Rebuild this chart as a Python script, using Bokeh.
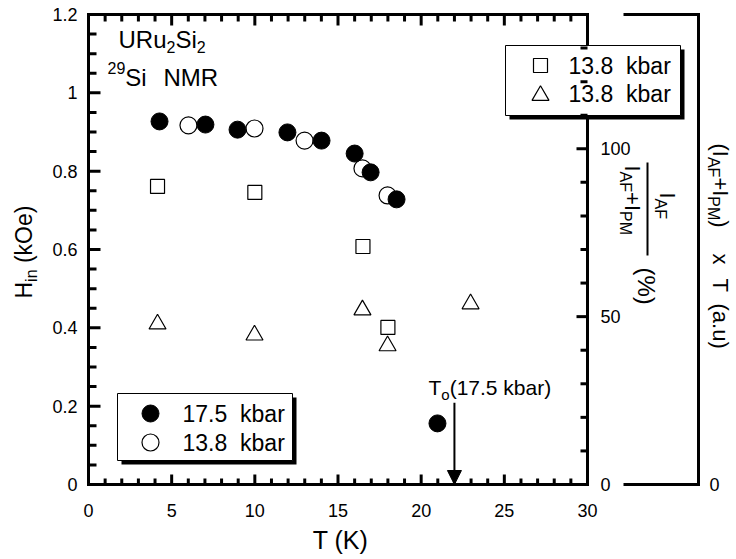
import math
from bokeh.plotting import figure
from bokeh.models import Range1d, Arrow, NormalHead, ColumnDataSource
from bokeh.core.properties import value
from bokeh.embed import file_html
from bokeh.resources import INLINE

# ---------------- data ----------------
T_175 = [4.27, 7.03, 8.96, 11.96, 14.01, 16.0, 16.96, 18.52, 20.98]      # 17.5 kbar, filled circles
H_175 = [0.927, 0.919, 0.906, 0.899, 0.878, 0.845, 0.797, 0.728, 0.156]
T_138 = [6.01, 9.98, 12.99, 16.47, 17.98]                                # 13.8 kbar, open circles
H_138 = [0.917, 0.909, 0.878, 0.807, 0.738]
T_sq = [4.15, 10.0, 16.5, 18.0]                                          # I_AF/(I_AF+I_PM) (%)
P_sq = [88.8, 87.0, 70.9, 46.8]
T_tri = [4.15, 9.98, 16.47, 17.98, 22.97]                                # (I_AF+I_PM) x T (a.u.)
A_tri = [47.8, 44.5, 52.0, 41.3, 53.8]
T0_T = 22.0            # T_o arrow position (K)
T0_top = 0.209         # arrow start (kOe)

x_major = [0, 5, 10, 15, 20, 25, 30]
x_labels = ["0", "5", "10", "15", "20", "25", "30"]
x_minor = [v for v in range(0, 31) if v % 5]
y_major = [0.0, 0.2, 0.4, 0.6, 0.8, 1.0, 1.2]
y_labels = ["0", "0.2", "0.4", "0.6", "0.8", "1", "1.2"]
y_minor = [k * 0.05 for k in range(25) if k % 4]
pct_major = [0, 50, 100]
pct_labels = ["0", "50", "100"]
pct_minor = [10, 20, 30, 40, 60, 70, 80, 90, 110, 120, 130]
X_MAX, Y_MAX, PCT_MAX = 30.0, 1.2, 140.0
NB = "\u00a0"
legend_top = ["13.8" + NB + NB + "kbar", "13.8" + NB + NB + "kbar"]
legend_bottom = ["17.5" + NB + NB + "kbar", "13.8" + NB + NB + "kbar"]

# ---------------- layout constants (pixels) ----------------
W, Hh = 736, 559
FL, FR, FT, FB = 88, 587, 14, 484
SX = (FR - FL) / X_MAX
SY = (FB - FT) / Y_MAX
PF = PCT_MAX / Y_MAX
FONT = "Liberation Sans"
MID = 0.35   # distance (em) from the alphabetic baseline to the text middle


def px(x):
    return (x - FL) / SX


def py(y):
    return (FB - y) / SY


p = figure(width=W, height=Hh,
           x_range=Range1d(px(0), px(W)), y_range=Range1d(py(Hh), py(0)),
           output_backend="svg", toolbar_location=None,
           x_axis_location=None, y_axis_location=None, min_border=0)
p.outline_line_color = None
p.xgrid.visible = False
p.ygrid.visible = False
p.background_fill_color = "white"
p.border_fill_color = "white"
p.extra_y_ranges = {"pct": Range1d(py(Hh) * PF, py(0) * PF),
                    "au": Range1d(py(Hh) * PF, py(0) * PF)}

# ---------------- data marks ----------------
p.scatter(T_sq, P_sq, y_range_name="pct", marker="square", size=14,
          fill_color="white", line_color="black", line_width=1.2)
p.scatter(T_tri, A_tri, y_range_name="au", marker="triangle", size=17,
          fill_color="white", line_color="black", line_width=1.2)
p.scatter(T_138, H_138, marker="circle", size=17, fill_color="white",
          line_color="black", line_width=1.2)
p.scatter(T_175, H_175, marker="circle", size=17, fill_color="black",
          line_color="black", line_width=1)

# ---------------- ticks: headless Arrow annotations (lines) ----------------
n = len
tx0, ty0, tx1, ty1 = [], [], [], []


def vticks(xs, y0, length_px):
    y1 = y0 + length_px / SY
    for x in xs:
        tx0.append(x); ty0.append(y0); tx1.append(x); ty1.append(y1)


def hticks(ys, x0, length_px):
    x1 = x0 + length_px / SX
    for y in ys:
        tx0.append(x0); ty0.append(y); tx1.append(x1); ty1.append(y)


vticks(x_major, 0, 10)
vticks(x_minor, 0, 6)
vticks(x_major, Y_MAX, -11)
vticks(x_minor, Y_MAX, -7)
hticks(y_major, 0, 12)
hticks(y_minor, 0, 8)
hticks([v / PF for v in pct_major], X_MAX, -11)
hticks([v / PF for v in pct_minor], X_MAX, -7)

tick_src = ColumnDataSource(data=dict(x0=tx0, y0=ty0, x1=tx1, y1=ty1))
p.add_layout(Arrow(end=None, x_start="x0", y_start="y0", x_end="x1", y_end="y1",
                   source=tick_src, line_color="black", line_width=3))
# fraction bar of the inner right-axis title
p.add_layout(Arrow(end=None, x_start=px(647), y_start=py(162), x_end=px(647), y_end=py(255),
                   line_color="black", line_width=2))

# frame
p.line([0, X_MAX, X_MAX, 0, 0, X_MAX], [0, 0, Y_MAX, Y_MAX, 0, 0],
       line_color="black", line_width=3, line_join="miter")
# outer (a.u.) axis bracket
OUT_L, OUT_X = px(623), px(698)
p.line([OUT_L, OUT_X, OUT_X, OUT_L], [Y_MAX, Y_MAX, 0, 0],
       line_color="black", line_width=3, line_join="miter")

TXT = dict(text_font=value(FONT), text_color="black")
p.text(x=x_major, y=[py(FB + 19)] * n(x_major), text=x_labels, text_align="center",
       text_baseline="top", text_font_size="18px", **TXT)
p.text(x=[px(FL - 11)] * n(y_major), y=y_major, text=y_labels, text_align="right",
       text_baseline="middle", text_font_size="18px", **TXT)
p.text(x=[px(FR + 13)] * n(pct_major), y=pct_major, text=pct_labels, y_range_name="pct",
       text_align="left", text_baseline="middle", text_font_size="18px", **TXT)
p.text(x=[px(709)], y=[0], text=["0"], y_range_name="au", text_align="left",
       text_baseline="middle", text_font_size="18px", **TXT)

p.add_layout(Arrow(end=NormalHead(size=14, fill_color="black", line_color="black"),
                   x_start=T0_T, y_start=T0_top, x_end=T0_T, y_end=0,
                   line_width=2, line_color="black"))

# ---------------- legends (box with drop shadow) ----------------


def legend_box(l, r, t, b):
    p.quad(left=[px(l + 4)], right=[px(r + 4)], top=[py(t + 4)], bottom=[py(b + 4)],
           fill_color="black", fill_alpha=1.0, line_color=None)
    p.quad(left=[px(l)], right=[px(r)], top=[py(t)], bottom=[py(b)],
           fill_color="white", fill_alpha=1.0, line_color="black", line_width=1)


legend_box(505, 680, 45, 115)
legend_box(117, 292, 393, 460)
p.scatter([px(540)], [py(65)], marker="square", size=14, fill_color="white",
          line_color="black", line_width=1.2)
p.scatter([px(540)], [py(95)], marker="triangle", size=17, fill_color="white",
          line_color="black", line_width=1.2)
p.scatter([px(150)], [py(413)], marker="circle", size=17, fill_color="black",
          line_color="black")
p.scatter([px(150)], [py(442)], marker="circle", size=17, fill_color="white",
          line_color="black", line_width=1.2)
p.text(x=[px(568)] * 2, y=[py(65), py(93)], text=legend_top, text_align="left",
       text_baseline="middle", text_font_size="23px", **TXT)
p.text(x=[px(182)] * 2, y=[py(413), py(442)], text=legend_bottom, text_align="left",
       text_baseline="middle", text_font_size="23px", **TXT)

# ---------------- texts with sub/superscripts ----------------
CW = {'0': .556, '1': .556, '2': .556, '3': .556, '4': .556, '5': .556, '6': .556,
      '7': .556, '8': .556, '9': .556, '.': .278, ' ': .278, NB: .278, 'k': .5, 'b': .556,
      'a': .556, 'r': .333, 'U': .722, 'R': .722, 'u': .556, 'S': .667, 'i': .222,
      'N': .722, 'M': .833, 'H': .722, 'n': .556, '(': .333, ')': .333, 'O': .778,
      'e': .556, 'I': .278, 'A': .667, 'F': .611, '+': .584, 'P': .667, 'x': .5,
      'T': .611, '%': .889, 'o': .556, 'K': .667}


def tw(s, size):
    return sum(CW.get(c, .556) for c in s) * size


def run(pieces, x0, y0, angle=0):
    """pieces placed on a common baseline (x0, y0 in px); shift > 0 lowers (subscript)."""
    adv = 0.0
    ang = math.radians(angle)
    for text, size, shift in pieces:
        up = MID * size - shift   # from baseline to the text middle, along "up"
        if angle == 0:
            X, Y = x0 + adv, y0 - up
        elif angle == 90:
            X, Y = x0 - up, y0 - adv
        else:
            X, Y = x0 + up, y0 + adv
        p.text(x=[px(X)], y=[py(Y)], text=[text], angle=ang, text_align="left",
               text_baseline="middle", text_font_size=f"{size}px", **TXT)
        adv += tw(text, size)


run([("URu", 24, 0), ("2", 16, 5), ("Si", 24, 0), ("2", 16, 5)], 118, 47)
run([("29", 16, -12), ("Si", 24, 0)], 107, 85)
run([("NMR", 24, 0)], 163, 85)
run([("T", 21, 0), ("o", 15, 5), ("(17.5 kbar)", 21, 0)], 428, 394)

# axis titles
run([("T (K)", 25, 0)], 340 - tw("T (K)", 25) / 2, 548)
run([("H", 23, 0), ("in", 16, 5), (NB + "(kOe)", 23, 0)], 32, 298, angle=90)

# fraction label of the inner right axis
run([("I", 22, 0), ("AF", 16, 5)], 659, 192, angle=-90)
run([("I", 22, 0), ("AF", 16, 5), ("+", 22, 0), ("I", 22, 0), ("PM", 16, 5)], 624, 165, angle=-90)
run([("(%)", 24, 0)], 638, 267, angle=-90)

# outer right axis title
run([("(", 22, 0), ("I", 22, 0), ("AF", 16, 5), ("+", 22, 0), ("I", 22, 0), ("PM", 16, 5),
     (")", 22, 0)], 712, 143, angle=-90)
run([("x", 22, 0)], 712, 253, angle=-90)
run([("T", 22, 0)], 712, 278, angle=-90)
run([("(a.u)", 22, 0)], 712, 303, angle=-90)

open("out.html", "w").write(file_html(p, INLINE))
